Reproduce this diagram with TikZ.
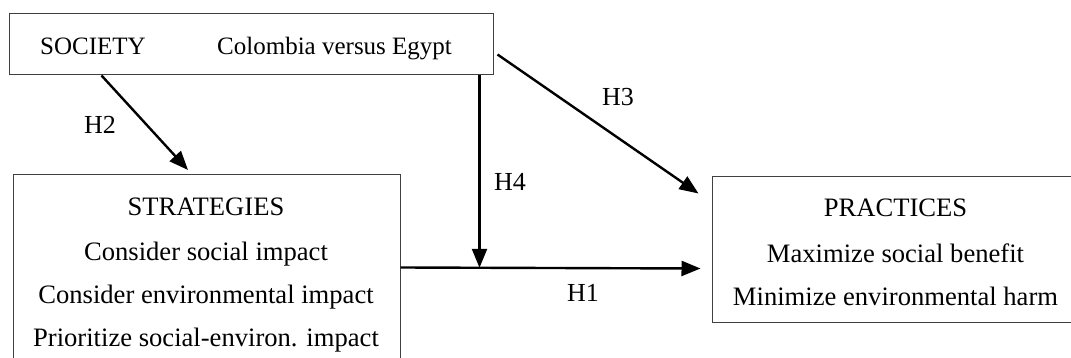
\documentclass[tikz,border=0pt]{standalone}
\usepackage{fontspec}
\setmainfont{Liberation Serif}
\usetikzlibrary{arrows.meta,calc}
\begin{document}
\begin{tikzpicture}[x=1pt,y=-1pt,
  box/.style={draw=black!75,line width=1pt,rectangle,inner sep=0pt},
  txt/.style={font=\fontsize{26.6}{32}\selectfont,inner sep=0pt,anchor=base},
  stxt/.style={font=\fontsize{25}{30}\selectfont,inner sep=0pt,anchor=base west},
  lab/.style={font=\fontsize{26}{30}\selectfont,inner sep=0pt},
  arr/.style={line width=2.4pt,-{Triangle[length=19pt,width=15pt]}}]
\useasboundingbox (0,0) rectangle (1071,358);
\clip (0,0) rectangle (1071,358);
% boxes
\node[box,minimum width=484pt,minimum height=61pt] (soc) at (251,44.5) {};
\node[box,minimum width=387pt,minimum height=220pt] (str) at (206.5,285) {};
\node[box,minimum width=367pt,minimum height=145pt] (pra) at (895.5,249.5) {};
% texts
\node[stxt] (socname) at (40,55) {SOCIETY};
\node[stxt] (soccty) at (217,55) {Colombia versus Egypt};
\node[txt] (s1) at (206,216) {STRATEGIES};
\node[txt] (s2) at (206,260) {Consider social impact};
\node[txt] (s3) at (206,303) {Consider environmental impact};
\node[txt] (s4) at (206,346) {Prioritize social-environ. impact};
\node[txt] (p1) at (895.5,217) {PRACTICES};
\node[txt] (p2) at (895.5,262) {Maximize social benefit};
\node[txt] (p3) at (895.5,305) {Minimize environmental harm};
% connector points
\coordinate (h2a) at ($(soc.south west)+(93,0)$);
\coordinate (h2b) at (188,170);
\coordinate (h4a) at ($(soc.south west)+(471,0)$);
\coordinate (h1a) at ($(str.north east)+(0,93)$);
\coordinate (h1b) at ($(pra.north west)+(-11,92)$);
\coordinate (h4b) at ($(h1a)!0.28!(h1b)$);
\coordinate (h3a) at ($(soc.east)+(4,10)$);
\coordinate (h3b) at ($(pra.north west)+(-13,17)$);
% arrows
\draw[arr] (h2a) -- (h2b);
\draw[arr] (h4a) -- (h4a |- h4b);
\draw[arr] (h3a) -- (h3b);
\draw[arr] (h1a) -- (h1b);
% labels
\node[lab] (lh2) at (100,125) {H2};
\node[lab] (lh4) at (510,182) {H4};
\node[lab] (lh3) at (618,97) {H3};
\node[lab] (lh1) at (583,293) {H1};
\end{tikzpicture}
\end{document}
